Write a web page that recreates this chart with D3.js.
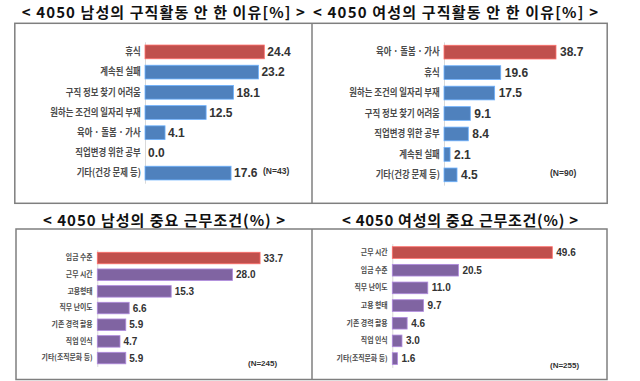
<!DOCTYPE html>
<html>
<head>
<meta charset="utf-8">
<script src="https://cdn.jsdelivr.net/npm/d3@7/dist/d3.min.js"></script>
<style>
  html, body { margin: 0; padding: 0; background: #fff; }
  svg { display: block; }
</style>
</head>
<body>
<svg id="chart" width="640" height="381"></svg>
<script>
// ---- data ----
const menReasonCats = ["휴식", "계속된 실패", "구직 정보 찾기 어려움", "원하는 조건의 일자리 부재", "육아 · 돌봄 · 가사", "직업변경 위한 공부", "기타(건강 문제 등)"];
const menReasonVals = [24.4, 23.2, 18.1, 12.5, 4.1, 0.0, 17.6];

const womenReasonCats = ["육아 · 돌봄 · 가사", "휴식", "원하는 조건의 일자리 부재", "구직 정보 찾기 어려움", "직업변경 위한 공부", "계속된 실패", "기타(건강 문제 등)"];
const womenReasonVals = [38.7, 19.6, 17.5, 9.1, 8.4, 2.1, 4.5];

const menCondCats = ["임금 수준", "근무 시간", "고용형태", "직무 난이도", "기존 경력 활용", "직업 인식", "기타(조직문화 등)"];
const menCondVals = [33.7, 28.0, 15.3, 6.6, 5.9, 4.7, 5.9];

const womenCondCats = ["근무 시간", "임금 수준", "직무 난이도", "고용 형태", "기존 경력 활용", "직업 인식", "기타(조직문화 등)"];
const womenCondVals = [49.6, 20.5, 11.0, 9.7, 4.6, 3.0, 1.6];

const panelTitles = [
  "< 4050 남성의 구직활동 안 한 이유[%] >",
  "< 4050 여성의 구직활동 안 한 이유[%] >",
  "< 4050 남성의 중요 근무조건(%) >",
  "< 4050 여성의 중요 근무조건(%) >"
];
const sampleLabels = ["(N=43)", "(N=90)", "(N=245)", "(N=255)"];

// ---- layout / style ----
const RED = "#C0504D", BLUE = "#4F81BD", PURPLE = "#8064A2";
const KFONT = "'Noto Sans CJK KR', 'Noto Sans', sans-serif";
const NFONT = "'Liberation Sans', Arial, sans-serif";

const svg = d3.select("#chart");

// frames
const frame = svg.append("g").attr("fill", "none").attr("stroke", "#7f7f7f").attr("stroke-width", 1.5);
frame.append("rect").attr("x", 14.8).attr("y", 23.3).attr("width", 592.4).attr("height", 180);
frame.append("line").attr("x1", 312).attr("x2", 312).attr("y1", 23.3).attr("y2", 203.3);
frame.append("rect").attr("x", 16).attr("y", 229).attr("width", 591).attr("height", 150.5);
frame.append("line").attr("x1", 312).attr("x2", 312).attr("y1", 229).attr("y2", 379.5);

const panels = [
  { cats: menReasonCats, vals: menReasonVals, color: BLUE, title: panelTitles[0], n: sampleLabels[0],
    x0: 145, k: 4.89, y0: 41.8, y1: 183.2, pad: 0.32,
    tx: 163.3, ty: 17.5, tlen: 283, tsize: 15,
    lsize: 10, lscale: 0.84, vsize: 12, voff: 3,
    nx: 263, ny: 171.5, nsize: 8.5 },
  { cats: womenReasonCats, vals: womenReasonVals, color: BLUE, title: panelTitles[1], n: sampleLabels[1],
    x0: 444, k: 2.894, y0: 41.9, y1: 185.1, pad: 0.33,
    tx: 455.5, ty: 17.5, tlen: 285, tsize: 15,
    lsize: 10, lscale: 0.84, vsize: 12, voff: 4,
    nx: 550, ny: 173.5, nsize: 8.5 },
  { cats: menCondCats, vals: menCondVals, color: PURPLE, title: panelTitles[2], n: sampleLabels[2],
    x0: 97.3, k: 4.83, y0: 249.7, y1: 366.4, pad: 0.31,
    tx: 164, ty: 226, tlen: 242, tsize: 15,
    lsize: 7.5, lscale: 0.92, vsize: 10, voff: 3.5,
    nx: 248, ny: 363, nsize: 8 },
  { cats: womenCondCats, vals: womenCondVals, color: PURPLE, title: panelTitles[3], n: sampleLabels[3],
    x0: 392.3, k: 3.226, y0: 243.7, y1: 367.4, pad: 0.34,
    tx: 460, ty: 226, tlen: 236, tsize: 15,
    lsize: 7.5, lscale: 0.92, vsize: 10, voff: 4,
    nx: 550, ny: 365, nsize: 8 }
];

panels.forEach(p => {
  const g = svg.append("g");
  const x = d3.scaleLinear().domain([0, 10]).range([p.x0, p.x0 + 10 * p.k]);
  const y = d3.scaleBand().domain(p.cats).range([p.y0, p.y1])
    .paddingInner(p.pad).paddingOuter(p.pad / 2);

  // title
  g.append("text")
    .attr("x", p.tx).attr("y", p.ty)
    .attr("text-anchor", "middle")
    .attr("textLength", p.tlen).attr("lengthAdjust", "spacing")
    .attr("font-family", KFONT).attr("font-weight", 700)
    .attr("font-size", p.tsize).attr("fill", "#111")
    .text(p.title);

  // category axis
  const ax = g.append("g")
    .attr("transform", `translate(${p.x0},0)`)
    .call(d3.axisLeft(y).tickSize(0).tickSizeOuter(0).tickPadding(5));
  ax.select(".domain").attr("stroke", "#d9d9d9").attr("stroke-width", 1);
  ax.selectAll("text")
    .attr("font-family", KFONT).attr("font-weight", 700)
    .attr("font-size", p.lsize).attr("fill", "#4a4a4a")
    .attr("transform", `scale(${p.lscale},1)`);

  // bars
  const data = p.cats.map((c, i) => ({ c, v: p.vals[i], i }));
  g.selectAll("rect.bar").data(data).join("rect")
    .attr("class", "bar")
    .attr("x", x(0))
    .attr("y", d => y(d.c))
    .attr("width", d => x(d.v) - x(0))
    .attr("height", y.bandwidth())
    .attr("fill", d => d.i === 0 ? RED : p.color)
    .attr("stroke", d => d3.color(d.i === 0 ? RED : p.color).brighter(0.9))
    .attr("stroke-width", 0.8);

  // value labels
  g.selectAll("text.val").data(data).join("text")
    .attr("class", "val")
    .attr("x", d => x(d.v) + p.voff)
    .attr("y", d => y(d.c) + y.bandwidth() / 2)
    .attr("dy", "0.36em")
    .attr("font-family", NFONT).attr("font-weight", 700)
    .attr("font-size", p.vsize).attr("fill", "#333")
    .text(d => d.v.toFixed(1));

  // sample size
  g.append("text")
    .attr("x", p.nx).attr("y", p.ny)
    .attr("dy", "0.35em")
    .attr("font-family", NFONT).attr("font-weight", 700)
    .attr("font-size", p.nsize).attr("fill", "#333")
    .text(p.n);
});
</script>
</body>
</html>
